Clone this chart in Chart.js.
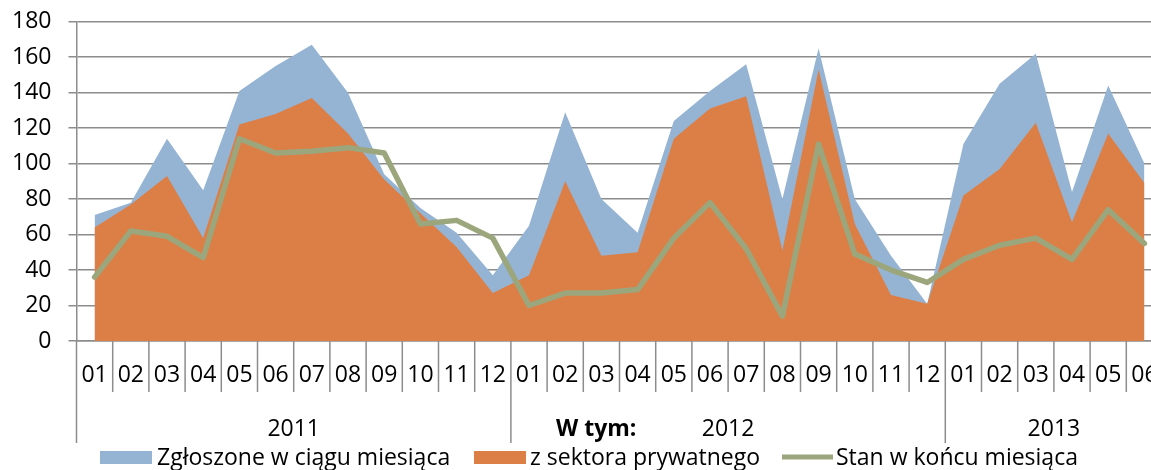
<!DOCTYPE html>
<html lang="pl">
<head>
<meta charset="utf-8">
<title>Zgłoszenia miesięczne 2011–2013</title>
<script src="https://cdn.jsdelivr.net/npm/chart.js@4.4.1/dist/chart.umd.min.js"></script>
<style>
  html, body { margin: 0; padding: 0; background: #fff; }
  #wrap { width: 1151px; height: 470px; overflow: hidden; position: relative; }
  canvas { display: block; }
</style>
</head>
<body>
<div id="wrap"><canvas id="chart" width="1180" height="470"></canvas></div>
<script>
// Month codes for each category (three years, 2013 up to June)
const months = ['01','02','03','04','05','06','07','08','09','10','11','12',
                '01','02','03','04','05','06','07','08','09','10','11','12',
                '01','02','03','04','05','06'];
// Year groups: label and number of months in each
const years = ['2011', '2012', '2013'];
const yearLengths = [12, 12, 6];

// Zgłoszone w ciągu miesiąca
const reported = [71, 78, 114, 85, 141, 155, 167, 140, 94, 75, 61, 37,
                  65, 129, 80, 61, 124, 141, 156, 80, 165, 80, 48, 21,
                  111, 145, 162, 84, 144, 100];
// z sektora prywatnego
const privateSector = [64, 77, 93, 58, 122, 128, 137, 117, 91, 72, 53, 27,
                       37, 90, 48, 50, 114, 131, 138, 51, 153, 66, 26, 21,
                       82, 97, 123, 67, 117, 89];
// Stan w końcu miesiąca
const endOfMonth = [36, 62, 59, 47, 114, 106, 107, 109, 106, 66, 68, 58,
                    20, 27, 27, 29, 58, 78, 52, 14, 111, 49, 40, 33,
                    46, 54, 58, 46, 74, 55];

const yTicks = [0, 20, 40, 60, 80, 100, 120, 140, 160, 180];

const seriesNames = ['Zgłoszone w ciągu miesiąca', 'z sektora prywatnego', 'Stan w końcu miesiąca'];
const subLabel = 'W tym:';

const BLUE = '#95B4D3';
const ORANGE = '#DC7F47';
const GREEN = '#9CA67C';
const GRID = '#8C8C8C';
const FONT = "'Open Sans', 'DejaVu Sans', sans-serif";
const FONT_SIZE = 23;

// Separators, year labels and legend drawn below the plot area
const extras = {
  id: 'extras',
  afterDraw(chart) {
    const ctx = chart.ctx;
    const x = chart.scales.x;
    const area = chart.chartArea;
    const step = x.getPixelForValue(1) - x.getPixelForValue(0);
    const edge = i => x.getPixelForValue(i) - step / 2;
    const yearStarts = [];
    let acc = 0;
    yearLengths.forEach(n => { yearStarts.push(acc); acc += n; });

    ctx.save();
    ctx.strokeStyle = GRID;
    ctx.lineWidth = 1.5;
    for (let i = 0; i <= months.length; i++) {
      const px = edge(i);
      const longLine = yearStarts.includes(i);
      ctx.beginPath();
      ctx.moveTo(px, area.bottom);
      ctx.lineTo(px, longLine ? 443 : 392);
      ctx.stroke();
    }

    // Year labels centred under their months
    ctx.fillStyle = '#000';
    ctx.font = FONT_SIZE + 'px ' + FONT;
    ctx.textAlign = 'center';
    ctx.textBaseline = 'alphabetic';
    years.forEach((y, k) => {
      const a = yearStarts[k], b = a + yearLengths[k] - 1;
      const cx = (x.getPixelForValue(a) + x.getPixelForValue(b)) / 2;
      ctx.fillText(y, cx, 436);
    });

    ctx.font = 'bold ' + FONT_SIZE + 'px ' + FONT;
    ctx.textAlign = 'left';
    ctx.fillText(subLabel, 556, 436);

    // Legend
    ctx.font = FONT_SIZE + 'px ' + FONT;
    const baseY = 465;
    ctx.fillStyle = BLUE;
    ctx.fillRect(100, 451, 52, 13);
    ctx.fillStyle = '#000';
    ctx.fillText(seriesNames[0], 157, baseY);

    ctx.fillStyle = ORANGE;
    ctx.fillRect(474, 451, 52, 13);
    ctx.fillStyle = '#000';
    ctx.fillText(seriesNames[1], 530, baseY);

    ctx.strokeStyle = GREEN;
    ctx.lineWidth = 5;
    ctx.beginPath();
    ctx.moveTo(782, 457);
    ctx.lineTo(833, 457);
    ctx.stroke();
    ctx.fillStyle = '#000';
    ctx.fillText(seriesNames[2], 836, baseY);
    ctx.restore();
  }
};

new Chart(document.getElementById('chart'), {
  type: 'line',
  data: {
    labels: months,
    datasets: [
      {
        label: seriesNames[2],
        data: endOfMonth,
        borderColor: GREEN,
        borderWidth: 5.5,
        borderJoinStyle: 'round',
        borderCapStyle: 'round',
        fill: false,
        pointRadius: 0,
        tension: 0,
        order: 0
      },
      {
        label: seriesNames[1],
        data: privateSector,
        backgroundColor: ORANGE,
        borderColor: 'transparent',
        borderWidth: 0,
        fill: 'origin',
        pointRadius: 0,
        tension: 0,
        order: 1
      },
      {
        label: seriesNames[0],
        data: reported,
        backgroundColor: BLUE,
        borderColor: 'transparent',
        borderWidth: 0,
        fill: 'origin',
        pointRadius: 0,
        tension: 0,
        order: 2
      }
    ]
  },
  options: {
    responsive: false,
    animation: false,
    events: [],
    layout: { padding: { top: 21.7, right: 17.5, bottom: 0, left: 0 } },
    plugins: {
      legend: { display: false },
      tooltip: { enabled: false }
    },
    scales: {
      x: {
        type: 'category',
        offset: true,
        grid: { display: false },
        border: { display: true, color: GRID, width: 1.5 },
        ticks: {
          autoSkip: false,
          maxRotation: 0,
          minRotation: 0,
          color: '#000',
          font: { family: FONT, size: FONT_SIZE },
          padding: 13
        },
        afterFit(scale) {
          scale.height = 129;
          scale.paddingLeft = 0;
          scale.paddingRight = 0;
        }
      },
      y: {
        min: 0,
        max: 180,
        afterBuildTicks(scale) { scale.ticks = yTicks.map(v => ({ value: v })); },
        grid: { color: GRID, lineWidth: 1.5, tickLength: 8, drawTicks: true },
        border: { display: true, color: GRID, width: 1.5 },
        ticks: {
          color: '#000',
          font: { family: FONT, size: FONT_SIZE },
          padding: 17
        },
        afterFit(scale) {
          scale.width = 76.5;
          scale.paddingTop = 0;
          scale.paddingBottom = 0;
        }
      }
    }
  },
  plugins: [extras]
});
</script>
</body>
</html>
